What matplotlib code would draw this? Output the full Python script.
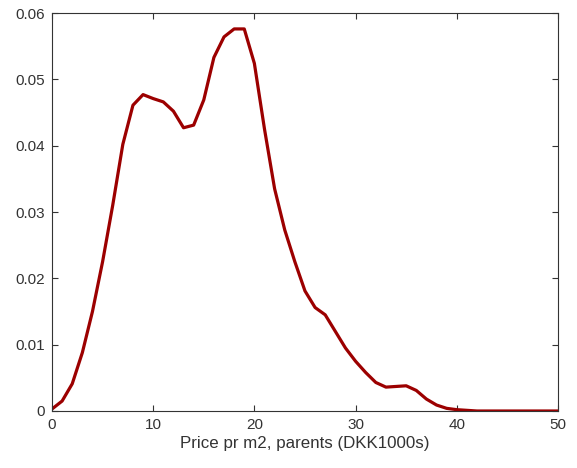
import matplotlib
matplotlib.use("Agg")
import matplotlib.pyplot as plt

# density of price per m2 (parents)
price = list(range(0, 51))
density = [0.0003, 0.0015, 0.0041, 0.0088, 0.0150, 0.0225, 0.0310, 0.0402, 0.0461, 0.0477,
           0.0471, 0.0466, 0.0452, 0.0427, 0.0431, 0.0469, 0.0533, 0.0564, 0.0576, 0.0576,
           0.0524, 0.0425, 0.0335, 0.0273, 0.0225, 0.0181, 0.0156, 0.0145, 0.0120, 0.0095,
           0.0075, 0.0058, 0.0043, 0.0036, 0.0037, 0.0038, 0.0031, 0.0018, 0.0009, 0.0004,
           0.0002, 0.0001, 0.0, 0.0, 0.0, 0.0, 0.0, 0.0, 0.0, 0.0, 0.0]
xticks = [0, 10, 20, 30, 40, 50]
yticks = [0, 0.01, 0.02, 0.03, 0.04, 0.05, 0.06]
ytick_labels = ['0', '0.01', '0.02', '0.03', '0.04', '0.05', '0.06']

plt.rcParams['font.family'] = ['Liberation Sans', 'DejaVu Sans']

fig = plt.figure(figsize=(5.77, 4.68), dpi=100)
ax = fig.add_axes([0.0901, 0.1218, 0.8769, 0.8504])
ax.plot(price, density, color='#9c0000', linewidth=2.3, solid_joinstyle='round')

ax.set_xlim(0, 50)
ax.set_ylim(0, 0.06)
ax.set_xticks(xticks)
ax.set_yticks(yticks)
ax.set_yticklabels(ytick_labels)
ax.tick_params(direction='in', top=True, right=True, length=4, width=0.8,
               colors='#333333', labelsize=11, pad=5)
for s in ax.spines.values():
    s.set_color('#333333')
    s.set_linewidth(0.8)
ax.set_xlabel('Price pr m2, parents (DKK1000s)', fontsize=12.2, color='#333333', labelpad=3)

fig.savefig('out.png', dpi=100)
